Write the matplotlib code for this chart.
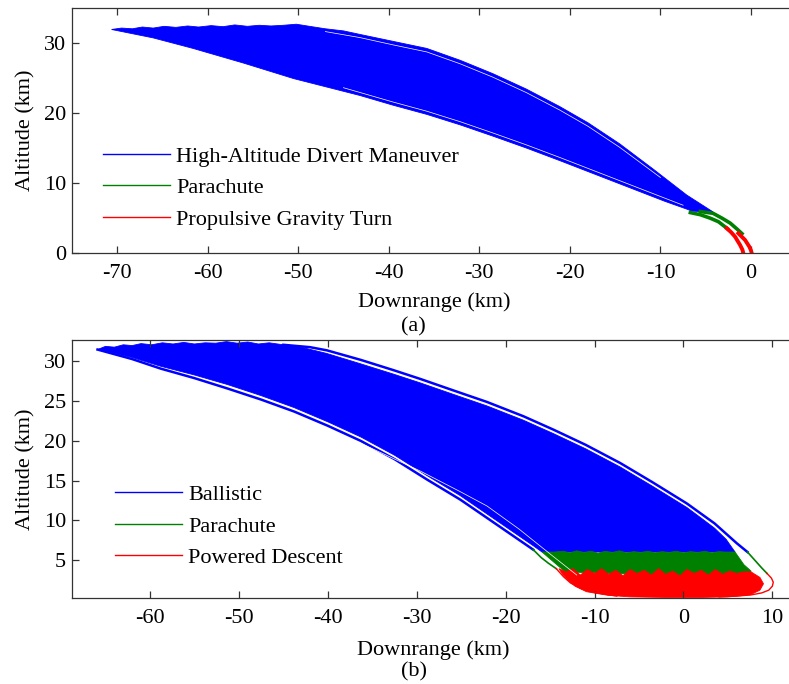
import matplotlib
matplotlib.use("Agg")
import matplotlib.pyplot as plt
from matplotlib.lines import Line2D

plt.rcParams['font.family'] = ['Liberation Serif', 'DejaVu Serif']
plt.rcParams['font.size'] = 16
plt.rcParams['axes.unicode_minus'] = False

BLUE = '#0000ff'
GREEN = '#008000'
RED = '#ff0000'

# ---------------- (a) data, km ----------------
a_up_x = [-70.6, -69.5, -68.3, -67.2, -66.0, -64.8, -63.5, -62.2, -61.0, -59.6, -58.3, -57.0,
          -55.6, -54.3, -53.0, -51.6, -50.2, -48.5, -47.0, -45.0, -43.2, -39.5, -35.8, -32.1,
          -28.5, -24.8, -21.1, -18.0, -14.5, -10.8, -7.1, -4.2]
a_up_y = [31.9, 32.1, 32.0, 32.25, 32.1, 32.35, 32.2, 32.4, 32.25, 32.45, 32.3, 32.55,
          32.35, 32.5, 32.4, 32.5, 32.65, 32.3, 32.0, 31.7, 31.2, 30.2, 29.2, 27.5,
          25.6, 23.4, 20.9, 18.6, 15.6, 12.0, 8.3, 5.9]
a_low_x = [-70.6, -66.0, -61.6, -56.0, -50.5, -43.2, -39.5, -35.8, -32.1, -28.5, -24.8,
           -21.1, -16.7, -12.5, -9.5, -7.1, -6.5]
a_low_y = [31.9, 30.7, 29.2, 27.1, 24.9, 22.5, 21.1, 19.8, 18.3, 16.7, 15.0,
           13.2, 11.0, 8.9, 7.4, 6.3, 6.0]
a_gap_up_x = [-47.0, -43.2, -39.5, -35.8, -32.1, -28.5, -24.8, -21.1, -18.0, -14.5, -10.0]
a_gap_up_y = [31.6, 30.75, 29.7, 28.7, 27.0, 25.1, 22.9, 20.4, 18.1, 15.1, 10.8]
a_gap_low_x = [-45.0, -39.5, -35.8, -32.1, -28.5, -24.8, -21.1, -16.7, -12.5, -9.5, -7.5]
a_gap_low_y = [23.6, 21.55, 20.25, 18.75, 17.15, 15.45, 13.65, 11.45, 9.35, 7.85, 6.85]
a_grn1_x = [-5.6, -4.2, -3.2, -2.3, -1.5, -1.0]
a_grn1_y = [5.95, 5.7, 5.0, 4.3, 3.4, 2.8]
a_grn2_x = [-6.7, -5.6, -4.5, -3.6, -3.1, -2.6]
a_grn2_y = [5.8, 5.5, 5.0, 4.5, 4.0, 3.5]
a_red1_x = [-2.68, -2.2, -1.77, -1.21, -0.95, -0.85]
a_red1_y = [3.56, 3.0, 2.37, 1.18, 0.5, 0.0]
a_red2_x = [-1.40, -0.66, -0.19, -0.02, 0.08]
a_red2_y = [2.85, 1.89, 0.94, 0.45, 0.0]

# ---------------- (b) data, km ----------------
b_up_x = [-65.9, -65.0, -64.0, -63.0, -62.0, -61.0, -59.8, -58.6, -57.4, -56.2, -55.0, -53.8,
          -52.6, -51.4, -50.2, -49.0, -47.8, -46.6, -45.0, -43.0, -40.1, -36.3, -32.6, -29.6,
          -26.0, -22.1, -18.0, -14.6, -11.0, -7.1, -3.5, 0.4, 2.2, 3.5, 4.8, 5.8]
b_up_y = [31.5, 31.9, 31.8, 32.1, 32.0, 32.25, 32.1, 32.35, 32.2, 32.4, 32.2, 32.35,
          32.3, 32.5, 32.3, 32.45, 32.2, 32.35, 32.1, 31.8, 31.0, 29.7, 28.4, 27.3,
          25.9, 24.4, 22.6, 20.9, 19.0, 16.7, 14.3, 11.6, 10.1, 9.0, 7.6, 6.0]
b_low_x = [-65.9, -62.0, -58.8, -55.0, -51.3, -47.5, -43.8, -40.0, -36.3, -32.5, -28.8,
           -25.1, -22.1, -19.5, -16.9, -15.9]
b_low_y = [31.5, 30.5, 29.4, 28.3, 27.1, 25.7, 24.2, 22.4, 20.5, 18.2, 15.6,
           13.1, 10.8, 8.8, 6.8, 6.0]
b_out1_x = [-45.0, -42.0, -40.1, -36.3, -32.6, -29.6, -26.0, -22.1, -18.0, -14.6, -11.0, -7.1,
            -3.5, 0.4, 3.5, 6.0, 7.2]
b_out1_y = [32.1, 31.8, 31.4, 30.2, 28.9, 27.8, 26.4, 24.9, 23.1, 21.4, 19.5, 17.2,
            14.8, 12.1, 9.6, 7.1, 6.0]
b_lowout_x = [-65.9, -62.0, -58.8, -55.0, -51.3, -47.5, -43.8, -40.0, -36.3, -32.5, -28.8,
              -25.1, -22.1, -19.5, -16.9]
b_lowout_y = [31.5, 30.3, 29.1, 27.9, 26.6, 25.2, 23.7, 21.9, 20.0, 17.7, 15.1,
              12.6, 10.3, 8.3, 6.3]
b_gap_low_x = [-50.0, -43.8, -36.3, -29.6, -25.1, -22.1, -18.5, -14.6, -12.0]
b_gap_low_y = [25.0, 22.9, 19.7, 16.2, 13.6, 11.8, 8.9, 5.4, 3.1]

b_grn_top_x = [-15.9, -14.5, -13.5, -12.8, -12.0, -11.2, -10.4, -9.6, -8.8, -8.0, -7.2, -6.4,
               -5.6, -4.8, -4.0, -3.2, -2.4, -1.6, -0.8, 0.0, 0.8, 1.6, 2.4, 3.2, 4.0,
               4.6, 5.8, 6.8, 7.6]
b_grn_top_y = [6.0, 6.0, 6.1, 5.9, 6.15, 5.95, 6.1, 5.85, 6.1, 5.95, 6.15, 5.9,
               6.05, 5.95, 6.1, 5.9, 6.05, 5.95, 6.1, 5.9, 6.05, 5.95, 6.1, 5.9, 6.05,
               6.0, 6.0, 4.4, 3.6]
b_grn_bot_x = [7.4, 0.0, -13.3]
b_grn_bot_y = [3.0, 3.0, 3.5]

b_red_top_x = [-14.0, -13.2, -12.4, -11.6, -10.8, -10.0, -9.2, -8.4, -7.6, -6.8, -6.0, -5.2,
               -4.4, -3.6, -2.8, -2.0, -1.2, -0.4, 0.4, 1.2, 2.0, 2.8, 3.6, 4.4, 5.2, 6.0,
               6.8, 7.6]
b_red_top_y = [3.9, 3.5, 3.9, 3.1, 3.8, 3.3, 3.9, 3.2, 3.7, 3.0, 3.8, 3.3,
               3.7, 3.1, 3.9, 3.2, 3.6, 3.0, 3.8, 3.3, 3.7, 3.1, 3.8, 3.2, 3.6, 3.3,
               3.5, 3.5]
b_red_bot_x = [8.6, 9.0, 8.6, 7.5, 5.0, 2.0, -2.0, -6.0, -8.5, -10.9, -12.2, -13.0, -13.6]
b_red_bot_y = [2.8, 2.0, 1.2, 0.6, 0.35, 0.28, 0.28, 0.35, 0.55, 1.0, 1.7, 2.5, 3.2]

b_grn_out_x = [7.2, 8.0, 8.8, 9.4]
b_grn_out_y = [6.0, 5.0, 4.0, 3.3]
b_grn_lowout_x = [-16.9, -16.0, -15.2, -14.3]
b_grn_lowout_y = [6.3, 5.3, 4.6, 3.9]
b_red_out_x = [9.4, 9.9, 10.1, 10.0, 9.6, 8.8, 7.6, 6.0, 4.0]
b_red_out_y = [3.3, 2.7, 2.2, 1.7, 1.2, 0.85, 0.6, 0.45, 0.35]
b_red_lowout_x = [-14.3, -13.5, -12.7, -11.5, -10.0, -7.5]
b_red_lowout_y = [3.9, 2.9, 2.1, 1.4, 0.9, 0.45]

a_labels = ['High-Altitude Divert Maneuver', 'Parachute', 'Propulsive Gravity Turn']
b_labels = ['Ballistic', 'Parachute', 'Powered Descent']


def style(ax):
    for s in ['left', 'bottom', 'top']:
        ax.spines[s].set_color('#333333')
        ax.spines[s].set_linewidth(0.9)
    ax.spines['right'].set_visible(False)
    ax.tick_params(direction='in', length=5, width=0.9, top=True, right=False,
                   colors='#333333', labelcolor='black', labelsize=16)
    ax.tick_params(axis='x', pad=8)
    ax.tick_params(axis='y', pad=4)


fig = plt.figure(figsize=(7.89, 6.84), dpi=100)

# ---- (a) ----
ax1 = fig.add_axes([0.0909, 0.6297, 0.9184, 0.359])
ax1.fill(a_up_x + a_low_x[::-1], a_up_y + a_low_y[::-1], color=BLUE, lw=0.6)
ax1.plot(a_gap_up_x, a_gap_up_y, color='white', lw=0.5)
ax1.plot(a_gap_low_x, a_gap_low_y, color='white', lw=0.5)
ax1.plot(a_grn1_x, a_grn1_y, color=GREEN, lw=2.6)
ax1.plot(a_grn2_x, a_grn2_y, color=GREEN, lw=2.6)
ax1.plot(a_red1_x, a_red1_y, color=RED, lw=2.8)
ax1.plot(a_red2_x, a_red2_y, color=RED, lw=2.8)
ax1.set_xlim(-75, 5)
ax1.set_ylim(0, 35)
ax1.set_xticks([-70, -60, -50, -40, -30, -20, -10, 0])
ax1.set_yticks([0, 10, 20, 30])
style(ax1)
ax1.set_xlabel('Downrange (km)')
ax1.set_ylabel('Altitude (km)')
ax1.xaxis.set_label_coords(0.5, -0.16)
ax1.yaxis.set_label_coords(-0.05, 0.5)
h1 = [Line2D([], [], color=c, lw=1.0) for c in (BLUE, GREEN, RED)]
ax1.legend(h1, a_labels, loc='upper left', bbox_to_anchor=(0.0432, 0.437), frameon=False,
           handlelength=3.0, handletextpad=0.3, labelspacing=0.5, borderpad=0,
           borderaxespad=0, fontsize=16)

# ---- (b) ----
ax2 = fig.add_axes([0.0909, 0.1262, 0.9162, 0.3767])
ax2.fill(b_up_x + b_low_x[::-1], b_up_y + b_low_y[::-1], color=BLUE, lw=0.6)
ax2.plot(b_out1_x, b_out1_y, color=BLUE, lw=1.8)
ax2.plot(b_lowout_x, b_lowout_y, color=BLUE, lw=1.8)
ax2.fill(b_grn_top_x + b_grn_bot_x, b_grn_top_y + b_grn_bot_y, color=GREEN, lw=0.6)
ax2.plot(b_grn_out_x, b_grn_out_y, color=GREEN, lw=1.2)
ax2.plot(b_grn_lowout_x, b_grn_lowout_y, color=GREEN, lw=1.2)
ax2.fill(b_red_top_x + b_red_bot_x, b_red_top_y + b_red_bot_y, color=RED, lw=0.6)
ax2.plot(b_red_out_x, b_red_out_y, color=RED, lw=1.0)
ax2.plot(b_red_lowout_x, b_red_lowout_y, color=RED, lw=1.0)
ax2.plot(b_gap_low_x, b_gap_low_y, color='white', lw=0.5)
ax2.set_xlim(-68.8, 12.5)
ax2.set_ylim(0.25, 32.7)
ax2.set_xticks([-60, -50, -40, -30, -20, -10, 0, 10])
ax2.set_yticks([5, 10, 15, 20, 25, 30])
style(ax2)
ax2.set_xlabel('Downrange (km)')
ax2.set_ylabel('Altitude (km)')
ax2.xaxis.set_label_coords(0.5, -0.165)
ax2.yaxis.set_label_coords(-0.05, 0.5)
h2 = [Line2D([], [], color=c, lw=1.0) for c in (BLUE, GREEN, RED)]
ax2.legend(h2, b_labels, loc='upper left', bbox_to_anchor=(0.0599, 0.44), frameon=False,
           handlelength=3.0, handletextpad=0.3, labelspacing=0.5, borderpad=0,
           borderaxespad=0, fontsize=16)

fig.text(413 / 789, 1 - 327 / 684, '(a)', ha='center', va='center', fontsize=16)
fig.text(414 / 789, 1 - 672 / 684, '(b)', ha='center', va='center', fontsize=16)

fig.savefig('out.png', dpi=100)
